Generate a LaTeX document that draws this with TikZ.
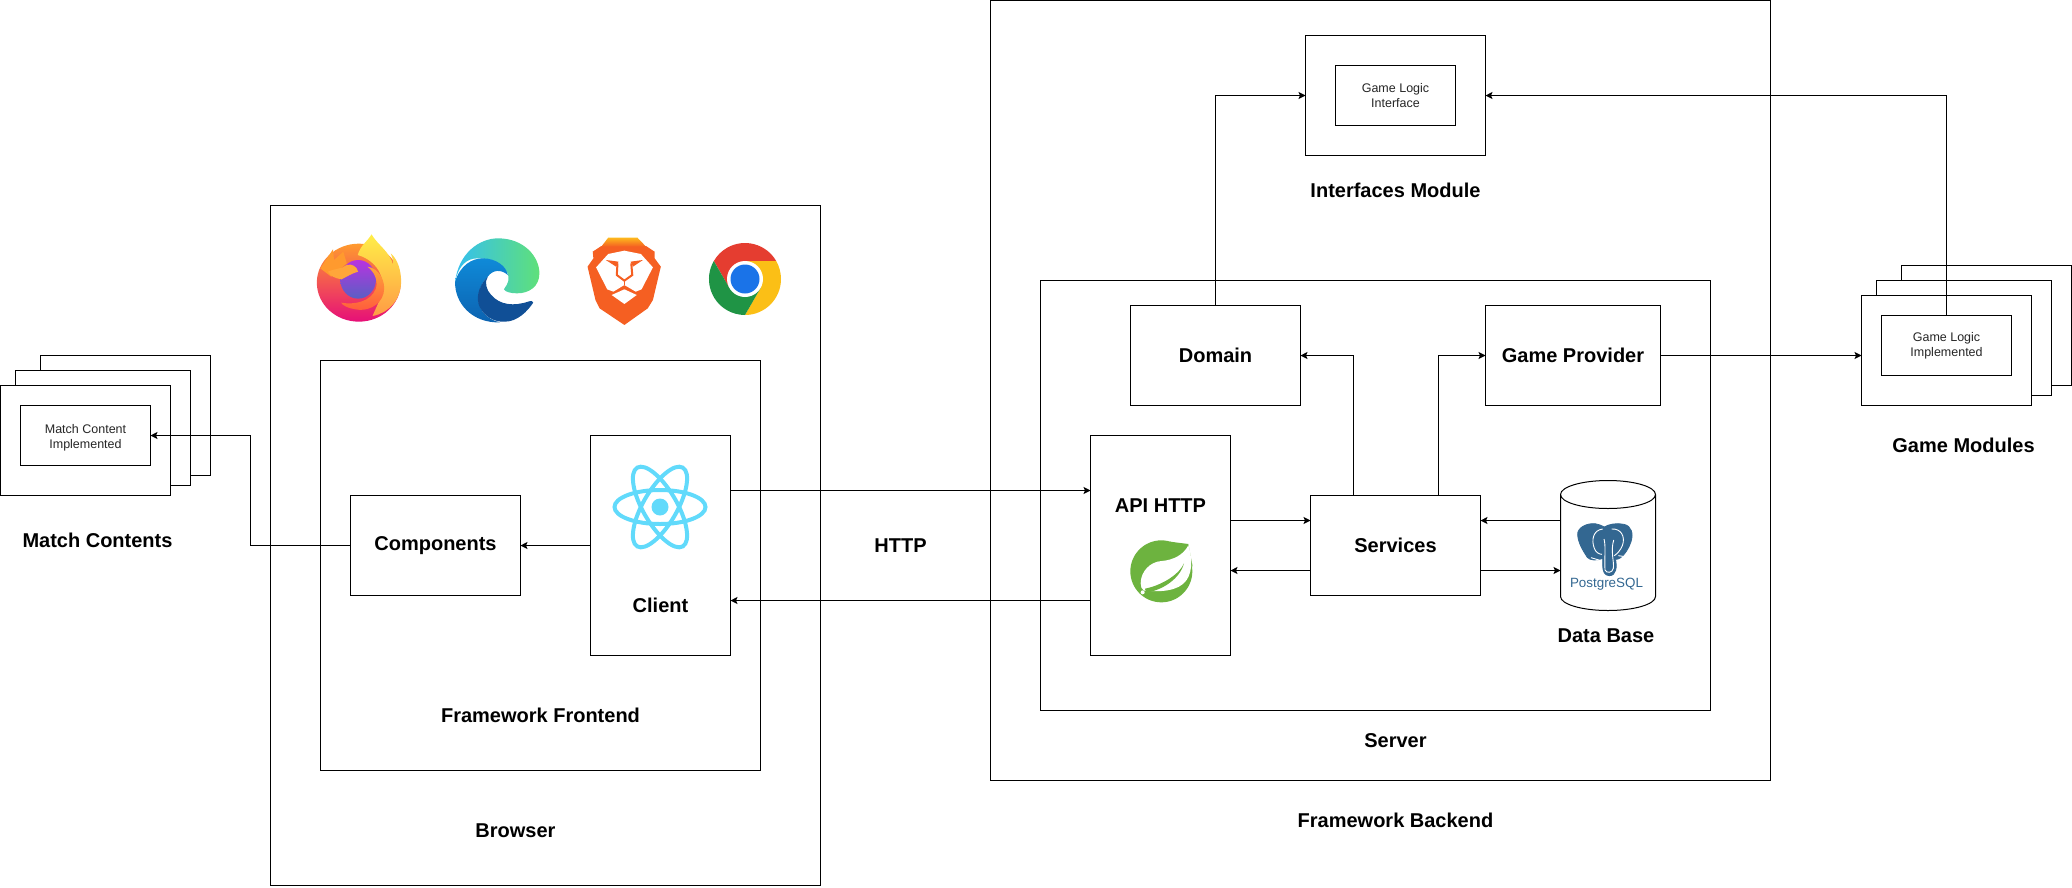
\documentclass[tikz,border=0pt]{standalone}
\usepackage{fontspec}
\setmainfont{Liberation Sans}
\usepackage{tikz}
\usetikzlibrary{positioning}
\usetikzlibrary{arrows.meta}
\definecolor{reactblue}{HTML}{61DAFB}
\definecolor{springgreen}{HTML}{6DB33F}
\definecolor{pgblue}{HTML}{336791}
\definecolor{bravered}{HTML}{F55F22}
\definecolor{foxtop}{HTML}{FF9A2E}
\definecolor{foxmid}{HTML}{FF5A3C}
\definecolor{foxlow}{HTML}{E60F78}
\definecolor{foxband}{HTML}{FFA63A}
\definecolor{flametop}{HTML}{FFEE48}
\definecolor{flamelow}{HTML}{FF9B45}
\definecolor{globetop}{HTML}{B833E1}
\definecolor{globemid}{HTML}{8F55F0}
\definecolor{globelow}{HTML}{5A5FC4}
\definecolor{edgeteal}{HTML}{35BFEF}
\definecolor{edgegreen}{HTML}{5FE07A}
\definecolor{edgeblue}{HTML}{0F8AD8}
\definecolor{edgelow}{HTML}{0C62B0}
\definecolor{edgedark}{HTML}{104F96}
\definecolor{chromered}{HTML}{E53D30}
\definecolor{chromeyellow}{HTML}{FBBF16}
\definecolor{chromegreen}{HTML}{1F9445}
\definecolor{chromeblue}{HTML}{1A73E8}
\definecolor{bravetop}{HTML}{FDB81D}
\tikzset{
  box/.style       = { rectangle, draw=black, line width=1pt, inner sep=0pt, outer sep=0pt },
  panel/.style     = { box, anchor=center },
  block/.style     = { box, font=\bfseries\fontsize{20}{24}\selectfont, minimum width=170pt, minimum height=100pt },
  tall/.style      = { box, minimum width=140pt, minimum height=220pt },
  heading/.style   = { font=\bfseries\fontsize{20}{24}\selectfont, inner sep=0pt },
  small/.style     = { align=center, text=black!85, inner sep=0pt, font=\fontsize{12.5}{15}\selectfont },
  slot/.style      = { box, small, fill=white },
  backcard/.style  = { box, fill=white, anchor=north west, minimum width=170pt, minimum height=120pt },
  midcard/.style   = { box, fill=white, anchor=north west, minimum width=175pt, minimum height=115pt },
  frontcard/.style = { box, fill=white, anchor=north west, minimum width=170pt, minimum height=110pt },
  logopx/.style    = { x=.344pt, y=-.3333pt },
  thirdpx/.style   = { x=.3333pt, y=-.3333pt },
}
\tikzset{
  firefoxlogo/.pic = {
    \begin{scope}[logopx]
      \shade [top color=foxtop, middle color=foxmid, bottom color=foxlow] (200,218) ellipse [x radius=122, y radius=117];
      \fill [foxtop] (88,175) -- (125,118) -- (128,150) -- (155,125) -- (165,160) -- (120,200) -- cycle;
      \shade [top color=flametop, bottom color=flamelow] (197,135) .. controls (205,105) and (225,95) .. (237,73)
        .. controls (255,105) and (290,125) .. (300,165) .. controls (300,150) and (297,140) .. (293,130)
        .. controls (315,150) and (323,185) .. (323,215) .. controls (323,270) and (285,310) .. (240,318)
        .. controls (255,280) and (275,250) .. (268,210) .. controls (260,170) and (230,145) .. (197,135) -- cycle;
      \shade [top color=globetop, middle color=globemid, bottom color=globelow] (198,208) ellipse [x radius=52, y radius=58];
      \fill [foxband] (110,185) .. controls (130,175) and (150,178) .. (165,165) .. controls (180,160) and (195,170) .. (198,185)
        .. controls (180,190) and (165,200) .. (150,208) .. controls (130,205) and (118,198) .. (110,185) -- cycle;
      \shade [top color=foxband, bottom color=foxmid] (225,170) .. controls (260,175) and (280,215) .. (272,250)
        .. controls (262,290) and (220,305) .. (190,298) .. controls (170,295) and (155,288) .. (148,278)
        .. controls (190,285) and (235,275) .. (250,235) .. controls (256,210) and (245,185) .. (225,170) -- cycle;
    \end{scope}
  },
  edgelogo/.pic = {
    \begin{scope}[logopx]
      \shade [left color=edgeteal, right color=edgegreen] (480,215) .. controls (490,130) and (550,85) .. (605,85)
        .. controls (680,85) and (725,140) .. (725,190) .. controls (725,230) and (695,250) .. (660,250)
        .. controls (640,250) and (625,245) .. (622,238) .. controls (625,230) and (637,222) .. (635,200)
        .. controls (630,165) and (590,145) .. (545,145) .. controls (515,145) and (490,165) .. (480,215) -- cycle;
      \shade [top color=edgeblue, bottom color=edgelow] (480,215) .. controls (495,165) and (530,145) .. (560,145)
        .. controls (600,145) and (630,170) .. (633,195) .. controls (615,178) and (590,178) .. (575,200)
        .. controls (550,225) and (535,270) .. (560,305) .. controls (570,320) and (590,333) .. (610,337)
        .. controls (530,340) and (478,280) .. (480,215) -- cycle;
      \fill [edgedark] (575,200) .. controls (545,230) and (535,275) .. (560,305)
        .. controls (575,325) and (600,337) .. (625,335) .. controls (660,335) and (690,305) .. (707,278)
        .. controls (707,272) and (700,272) .. (695,274) .. controls (650,290) and (610,285) .. (585,255)
        .. controls (570,240) and (565,215) .. (575,200) -- cycle;
    \end{scope}
  },
  bravelogo/.pic = {
    \begin{scope}[logopx]
      \fill [bravered] (905,108) -- (1035,108) -- (1060,125) -- (1060,145) -- (1078,170) -- (1055,270) -- (1040,295) -- (972,345)
        -- (900,295) -- (888,270) -- (865,170) -- (882,145) -- (880,125) -- cycle;
      \shade [top color=bravetop, bottom color=bravered] (925,83) -- (1010,83) -- (1035,110) -- (905,110) -- cycle;
      \fill [white] (890,172) -- (925,132) -- (972,122) -- (1020,132) -- (1055,172) -- (1022,238) -- (1005,245) -- (972,225)
        -- (940,245) -- (922,238) -- cycle;
      \fill [bravered] (918,150) -- (955,155) -- (948,170) -- cycle;
      \fill [bravered] (1026,150) -- (990,155) -- (997,170) -- cycle;
      \draw [bravered, line width=2pt] (952,160) -- (950,195) -- (972,212) -- (995,195) -- (992,160);
      \draw [bravered, line width=1.5pt] (972,212) -- (972,225);
      \fill [white] (935,255) -- (972,238) -- (1008,255) -- (972,282) -- cycle;
    \end{scope}
  },
  chromelogo/.pic = {
    \begin{scope}[y=1pt]
      \fill [chromered] (31.2,18) arc [start angle=30, end angle=150, radius=36] -- (-15.6,-9) -- (0,0) -- (0,18) -- cycle;
      \fill [chromeyellow] (0,-36) arc [start angle=-90, end angle=30, radius=36] -- (0,18) -- (0,0) -- (15.6,-9) -- cycle;
      \fill [chromegreen] (-31.2,18) arc [start angle=150, end angle=270, radius=36] -- (15.6,-9) -- (0,0) -- (-15.6,-9) -- cycle;
      \fill [white] (0,0) circle [radius=18];
      \fill [chromeblue] (0,0) circle [radius=14.5];
    \end{scope}
  },
  reactlogo/.pic = {
    \foreach \tilt in {0,60,120}
      \draw [reactblue, line width=4pt, rotate=\tilt] (0,0) ellipse [x radius=45.5, y radius=17];
    \fill [reactblue] (0,0) circle [radius=8.5];
  },
  springlogo/.pic = {
    \begin{scope}[thirdpx]
      \fill [springgreen] (124,124) circle [radius=93];
      \fill [springgreen] (150,35) -- (205,42) -- (218,110) -- cycle;
      \fill [white] (205,46) .. controls (190,75) and (160,90) .. (125,93) .. controls (90,95) and (62,125) .. (62,160)
        .. controls (62,170) and (65,178) .. (72,182) .. controls (120,186) and (175,185) .. (200,150)
        .. controls (220,120) and (215,75) .. (205,46) -- cycle;
      \fill [springgreen] (192,100) .. controls (180,130) and (130,165) .. (75,176) -- (78,188)
        .. controls (130,180) and (180,145) .. (192,100) -- cycle;
      \fill [white] (68,187) circle [radius=6];
    \end{scope}
  },
  elephantlogo/.pic = {
    \begin{scope}[thirdpx]
      \draw [pgblue, fill=pgblue, line width=.8pt] (68,60) .. controls (66,38) and (95,24) .. (120,26) .. controls (130,27) and (140,32) .. (148,36)
        .. controls (160,28) and (185,23) .. (207,28) .. controls (229,33) and (236,55) .. (228,80)
        .. controls (222,100) and (208,120) .. (197,128) .. controls (192,132) and (186,133) .. (182,133)
        .. controls (186,155) and (184,182) .. (163,182) .. controls (148,182) and (143,168) .. (143,150)
        -- (143,130) .. controls (128,137) and (105,137) .. (97,127) .. controls (84,107) and (70,85) .. (68,60) -- cycle;
      \draw [white, line width=.9pt] (143,42) .. controls (115,45) and (108,75) .. (118,100) .. controls (122,112) and (133,118) .. (141,118);
      \draw [white, line width=.9pt] (170,42) .. controls (198,40) and (212,65) .. (202,92) .. controls (196,107) and (186,116) .. (178,122);
      \draw [white, line width=.9pt] (147,72) .. controls (153,95) and (148,125) .. (150,165) .. controls (154,175) and (172,175) .. (175,160) .. controls (178,140) and (166,110) .. (176,75);
      \draw [white, line width=.9pt] (108,128) -- (135,136);
      \draw [white, line width=.9pt] (190,122) -- (218,126);
    \end{scope}
  },
}

\begin{document}
\begin{tikzpicture}[
  x=1pt,y=-1pt,
  node distance=80pt,
  >={Stealth[length=7pt,width=7pt,inset=1.5pt]},line width=1pt,black
]
  \useasboundingbox (0,0) rectangle (2072,887);

  \node (browser)    [panel,minimum width=550pt,minimum height=680pt] at (545.5,545.5) {};
  \node (frontend)   [box,below right=155pt and 50pt of browser.north west,minimum width=440pt,minimum height=410pt] {};
  \node (client)     [tall,below right=75pt and 270pt of frontend.north west]       {};
  \node (components) [block,left=70pt of client]                                    {Components};

  \node (backend)    [panel,minimum width=780pt,minimum height=780pt] at (1380.5,390.5) {};
  \node (server)     [box,below right=280pt and 50pt of backend.north west,minimum width=670pt,minimum height=430pt] {};
  \node (iface)      [box,below right=35pt and 315pt of backend.north west,minimum width=180pt,minimum height=120pt] {};
  \node (ifacein)    [slot,minimum width=120pt,minimum height=60pt] at (iface)      {Game Logic\\Interface};
  \node (api)        [tall,right=360pt of client]                                   {};
  \node (services)   [block,right=of api]                                           {Services};
  \node (db)         [box,draw=none,minimum width=95pt,minimum height=130pt,right=of services] {};
  \node (domain)     [block,below right=25pt and 90pt of server.north west]         {Domain};
  \node (provider)   [block,right=185pt of domain,minimum width=175pt]              {Game Provider};

  \draw ([yshift=-14pt]db.north west) -- ([yshift=14pt]db.south west)
    arc [start angle=180, end angle=360, x radius=47.5pt, y radius=14pt]
    -- ([yshift=-14pt]db.north east)
    arc [start angle=0, end angle=180, x radius=47.5pt, y radius=14pt];
  \draw ([yshift=-14pt]db.north west) arc [start angle=180, end angle=360, x radius=47.5pt, y radius=14pt];

  \node (matchback)  [backcard] at (40.5,355.5)                                     {};
  \node (matchmid)   [midcard]  at ([xshift=-25pt,yshift=-15pt]matchback.north west) {};
  \node (matchfront) [frontcard] at ([xshift=-15pt,yshift=-15pt]matchmid.north west) {};
  \node (matchin)    [slot,minimum width=130pt,minimum height=60pt,anchor=north west] at ([xshift=20pt,yshift=-20pt]matchfront.north west) {};
  \node (matchtext)  [small] at ([yshift=-2.5pt]matchin.center)                     {Match Content\\Implemented};

  \node (gameback)   [backcard] at (1901.5,265.5)                                   {};
  \node (gamemid)    [midcard]  at ([xshift=-25pt,yshift=-15pt]gameback.north west) {};
  \node (gamefront)  [frontcard] at ([xshift=-15pt,yshift=-15pt]gamemid.north west) {};
  \node (gamein)     [slot,minimum width=130pt,minimum height=60pt,anchor=north west] at ([xshift=20pt,yshift=-20pt]gamefront.north west) {Game Logic\\Implemented};

  \node (browsername)  [heading] at ([xshift=-30pt,yshift=55pt]browser.south)       {Browser};
  \node (frontendname) [heading] at ([yshift=55pt]frontend.south)                   {Framework Frontend};
  \node (clientname)   [heading] at ([yshift=-59.5pt]client)                        {Client};
  \node (apiname)      [heading] at ([yshift=40pt]api)                              {API HTTP};
  \node (httpname)     [heading] at ([xshift=170pt]client.east)                     {HTTP};
  \node (dbname)       [heading] at ([xshift=-2pt,yshift=-25pt]db.south)            {Data Base};
  \node (servername)   [heading] at ([xshift=20pt,yshift=-30pt]server.south)        {Server};
  \node (backendname)  [heading] at ([xshift=15pt,yshift=-40pt]backend.south)       {Framework Backend};
  \node (ifacename)    [heading] at ([yshift=-35pt]iface.south)                     {Interfaces Module};
  \node (matchname)    [heading] at ([xshift=12pt,yshift=-45pt]matchfront.south)    {Match Contents};
  \node (gamename)     [heading] at ([xshift=17pt,yshift=-40pt]gamefront.south)     {Game Modules};
  \node (pgname)       [text=pgblue,font=\fontsize{13.4}{16}\selectfont,inner sep=0pt] at (1606.5,584.5) {PostgreSQL};

  \pic (firefox) at (290,210)   {firefoxlogo};
  \pic (edge)    at (290,210)   {edgelogo};
  \pic (brave)   at (290,210)   {bravelogo};
  \pic (chrome)  at (745,279)   {chromelogo};
  \pic (react)   at (660,507)   {reactlogo};
  \pic (spring)  at (1120,530)  {springlogo};
  \pic (pg)      at (1555,515)  {elephantlogo};

  \draw [->] ([yshift=55pt]client.east)     -- ([yshift=55pt]api.west);
  \draw [->] ([yshift=-55pt]api.west)       -- ([yshift=-55pt]client.east);
  \draw [->] (client.west)                  -- (components.east);
  \draw [->] (components.west) -- ++(-100pt,0pt) |- (matchin.east);
  \draw [->] ([yshift=25pt]api.east)        -- ([yshift=25pt]services.west);
  \draw [->] ([yshift=-25pt]services.west)  -- ([yshift=-25pt]api.east);
  \draw [->] ([yshift=25pt]db.west)         -- ([yshift=25pt]services.east);
  \draw [->] ([yshift=-25pt]services.east)  -- ([yshift=-25pt]db.west);
  \draw [->] ([xshift=-42.5pt]services.north) |- (domain.east);
  \draw [->] ([xshift=42.5pt]services.north)  |- (provider.west);
  \draw [->] (domain.north)   |- (iface.west);
  \draw [->] (provider.east)  -- (provider.east -| gamefront.west);
  \draw [->] (gamein.north)   |- (iface.east);

\end{tikzpicture}
\end{document}
